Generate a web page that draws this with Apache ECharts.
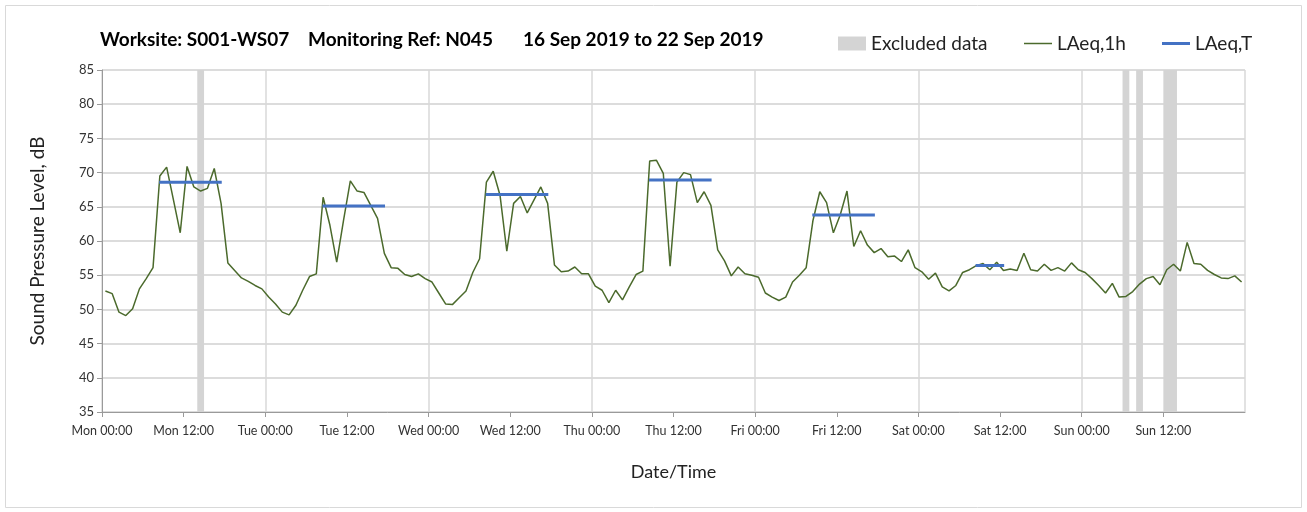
<!DOCTYPE html>
<html>
<head>
<meta charset="utf-8">
<script src="https://cdn.jsdelivr.net/npm/echarts@6/dist/echarts.min.js"></script>
<style>
  body { margin: 0; background: #fff; }
  #myChart { width: 1307px; height: 512px; }
</style>
</head>
<body>
<div id="myChart"></div>
<script>
// hourly LAeq,1h values, Mon 00:00 .. Sun 23:00
var hourlyLevels = [
  52.7, 52.3, 49.6, 49.1, 50.1, 53.0, 54.5, 56.1, 69.5, 70.8, 66.0, 61.2,
  70.9, 67.9, 67.3, 67.7, 70.6, 65.5, 56.8, 55.7, 54.6, 54.1, 53.5, 53.0,
  51.8, 50.8, 49.6, 49.2, 50.6, 52.8, 54.8, 55.2, 66.4, 62.3, 56.9, 63.0,
  68.8, 67.3, 67.1, 65.2, 63.3, 58.2, 56.1, 56.0, 55.1, 54.8, 55.2, 54.5,
  54.0, 52.4, 50.8, 50.7, 51.7, 52.7, 55.4, 57.4, 68.6, 70.2, 66.7, 58.5,
  65.5, 66.5, 64.1, 66.0, 67.9, 65.5, 56.5, 55.5, 55.6, 56.2, 55.2, 55.2,
  53.4, 52.8, 51.0, 52.8, 51.4, 53.3, 55.1, 55.6, 71.7, 71.8, 69.9, 56.3,
  68.6, 70.0, 69.7, 65.6, 67.2, 65.2, 58.7, 57.1, 54.9, 56.2, 55.2, 55.0,
  54.7, 52.4, 51.8, 51.3, 51.8, 54.0, 55.0, 56.1, 63.0, 67.2, 65.6, 61.2,
  63.8, 67.3, 59.2, 61.5, 59.4, 58.3, 58.9, 57.7, 57.8, 57.0, 58.7, 56.1,
  55.5, 54.4, 55.3, 53.3, 52.7, 53.5, 55.4, 55.8, 56.4, 56.7, 55.8, 56.9,
  55.7, 55.9, 55.7, 58.2, 55.8, 55.6, 56.6, 55.7, 56.1, 55.6, 56.8, 55.8,
  55.4, 54.5, 53.5, 52.4, 53.8, 51.8, 51.9, 52.6, 53.7, 54.5, 54.8, 53.6,
  55.8, 56.6, 55.6, 59.8, 56.7, 56.6, 55.7, 55.1, 54.6, 54.5, 54.9, 54.0
];

// LAeq,T assessment periods (day index, start hour, end hour, level)
var periodDay   = [0, 1, 2, 3, 4, 5];
var periodStart = [8, 8, 8, 8, 8, 8];
var periodEnd   = [18, 18, 18, 18, 18, 13];
var periodLevel = [68.6, 65.1, 66.8, 68.9, 63.8, 56.4];

// excluded hours (hours from Mon 00:00)
var excludedStart = [14, 150, 152, 156];
var excludedEnd   = [15, 151, 153, 158];

var dayNames = ['Mon', 'Tue', 'Wed', 'Thu', 'Fri', 'Sat', 'Sun'];
var titleParts = ['Worksite: S001-WS07', 'Monitoring Ref: N045', '16 Sep 2019 to 22 Sep 2019'];
var yTicks = { min: 35, max: 85, step: 5 };

var fontName = 'Lato, "Open Sans", sans-serif';
var green = '#4b6a2c';
var blue = '#4472c4';
var grey = '#d4d4d4';

var hourlyData = [];
for (var i = 0; i < hourlyLevels.length; i++) {
  hourlyData.push([i + 0.5, hourlyLevels[i]]);
}

var excludedData = [];
for (var k = 0; k < excludedStart.length; k++) {
  excludedData.push([excludedStart[k], excludedEnd[k]]);
}

var series = [];

// grey bands for the excluded hours
series.push({
  name: 'Excluded data',
  type: 'custom',
  z: 1,
  itemStyle: { color: grey },
  encode: { x: [0, 1] },
  data: excludedData,
  renderItem: function (params, api) {
    var p0 = api.coord([api.value(0), yTicks.max]);
    var p1 = api.coord([api.value(1), yTicks.min]);
    return {
      type: 'rect',
      shape: { x: p0[0], y: p0[1], width: p1[0] - p0[0], height: p1[1] - p0[1] },
      style: { fill: grey }
    };
  }
});

series.push({
  name: 'LAeq,1h',
  type: 'line',
  z: 3,
  symbol: 'none',
  lineStyle: { color: green, width: 1.5 },
  itemStyle: { color: green },
  data: hourlyData
});

// one short segment per period
for (var p = 0; p < periodDay.length; p++) {
  var base = periodDay[p] * 24;
  series.push({
    name: 'LAeq,T',
    type: 'line',
    z: 4,
    symbol: 'none',
    lineStyle: { color: blue, width: 3 },
    itemStyle: { color: blue },
    data: [
      [base + periodStart[p] + 0.4, periodLevel[p]],
      [base + periodEnd[p] - 0.4, periodLevel[p]]
    ]
  });
}

function titlePart(text, left) {
  return {
    text: text, left: left, top: 30, padding: 0,
    textStyle: { fontFamily: fontName, fontSize: 19, fontWeight: 'bold', color: '#000' }
  };
}

function legendPart(name, left, h) {
  return {
    left: left, top: 34, padding: 0,
    itemWidth: 28, itemHeight: h, itemGap: 0,
    icon: 'rect',
    textStyle: { fontFamily: fontName, fontSize: 19, color: '#222', padding: [0, 0, 0, 0] },
    data: [name]
  };
}

var option = {
  animation: false,
  textStyle: { fontFamily: fontName },
  title: [
    titlePart(titleParts[0], 100),
    titlePart(titleParts[1], 308),
    titlePart(titleParts[2], 523)
  ],
  legend: [
    legendPart('Excluded data', 838, 14),
    legendPart('LAeq,1h', 1024, 1.5),
    legendPart('LAeq,T', 1162, 3)
  ],
  graphic: [{
    type: 'rect',
    shape: { x: 5.5, y: 5.5, width: 1296, height: 502 },
    style: { fill: 'none', stroke: '#d9d9d9', lineWidth: 1 },
    silent: true
  }],
  grid: { left: 102, right: 62, top: 70, bottom: 100 },
  xAxis: [{
    type: 'value',
    min: 0,
    max: 168,
    interval: 12,
    name: 'Date/Time',
    nameLocation: 'middle',
    nameGap: 51,
    nameTextStyle: { fontFamily: fontName, fontSize: 18, color: '#222' },
    axisLine: { lineStyle: { color: '#9a9a9a' } },
    axisTick: { show: true, length: 5, lineStyle: { color: '#9a9a9a' } },
    splitLine: { show: false },
    axisLabel: {
      fontFamily: fontName,
      fontSize: 12.5,
      color: '#333',
      margin: 12,
      showMaxLabel: false,
      formatter: function (v) {
        if (v >= 168) return '';
        var d = Math.floor(v / 24);
        return dayNames[d] + (v % 24 === 0 ? ' 00:00' : ' 12:00');
      }
    }
  }, {
    // only for the daily vertical grid lines
    type: 'value',
    min: 0,
    max: 168,
    interval: 24,
    position: 'bottom',
    axisLine: { show: false },
    axisTick: { show: false },
    axisLabel: { show: false },
    splitLine: { show: true, lineStyle: { color: '#d9d9d9', width: 1.5 } }
  }],
  yAxis: {
    type: 'value',
    min: yTicks.min,
    max: yTicks.max,
    interval: yTicks.step,
    name: 'Sound Pressure Level, dB',
    nameLocation: 'middle',
    nameGap: 55,
    nameTextStyle: { fontFamily: fontName, fontSize: 19, color: '#222' },
    axisLine: { show: true, lineStyle: { color: '#9a9a9a' } },
    axisTick: { show: true, length: 5, lineStyle: { color: '#9a9a9a' } },
    axisLabel: { fontFamily: fontName, fontSize: 13, color: '#333', margin: 8 },
    splitLine: { show: true, lineStyle: { color: '#d0d0d0', width: 1.5 } }
  },
  series: series
};

var myChart = echarts.init(document.getElementById('myChart'));
myChart.setOption(option);
</script>
</body>
</html>
